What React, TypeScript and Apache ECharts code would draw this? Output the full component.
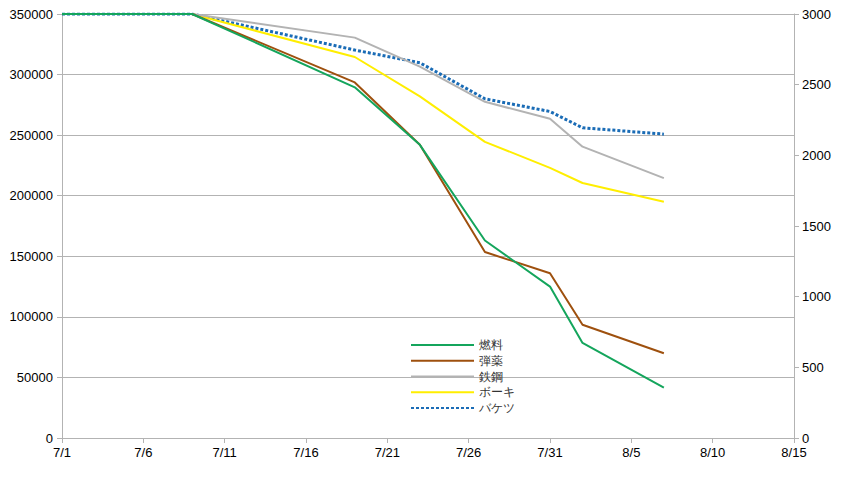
import React, { useEffect, useRef } from "react";
import * as echarts from "echarts";

const dates = ["7/1", "7/9", "7/19", "7/23", "7/27", "7/31", "8/2", "8/7"];
const fuel = [350000, 350000, 289500, 242000, 163000, 125000, 78500, 41500];
const ammo = [350000, 350000, 293500, 242000, 153500, 136000, 93500, 70000];
const steel = [350000, 350000, 330500, 306500, 277500, 263500, 240500, 214500];
const bauxite = [350000, 350000, 314500, 282000, 244500, 223000, 210500, 195000];
const bucket = [3000, 3000, 2745, 2655, 2400, 2310, 2195, 2150];

const seriesNames = ["燃料", "弾薬", "鉄鋼", "ボーキ", "バケツ"];
const seriesColors = ["#14a55c", "#9e500e", "#b3b3b3", "#ffee00", "#1a6cb6"];

const YEAR = 2020;
const START = Date.UTC(YEAR, 6, 1);
const DAY = 86400000;

function toDay(s: string): number {
  const [m, d] = s.split("/").map(Number);
  return (Date.UTC(YEAR, m - 1, d) - START) / DAY;
}
function dayLabel(v: number): string {
  const dt = new Date(START + v * DAY);
  return `${dt.getUTCMonth() + 1}/${dt.getUTCDate()}`;
}

const font = "'Liberation Sans', Arial, sans-serif";
const axisGray = "#b3b3b3";

export default function App() {
  const ref = useRef<HTMLDivElement>(null);
  useEffect(() => {
    if (!ref.current) return;
    const chart = echarts.init(ref.current, undefined, { renderer: "svg" });
    const xs = dates.map(toDay);
    const mk = (vals: number[]) => vals.map((v, i) => [xs[i], v]);
    const all = [fuel, ammo, steel, bauxite, bucket];
    chart.setOption({
      animation: false,
      textStyle: { fontFamily: font },
      grid: { left: 62, right: 58, top: 14, bottom: 40 },
      legend: {
        orient: "vertical",
        left: 410,
        top: 339,
        padding: 0,
        itemWidth: 63,
        itemHeight: 14,
        itemGap: 3.75,
        itemStyle: { opacity: 0 },
        textStyle: { fontSize: 12, color: "#333", fontFamily: font, padding: [0, 0, 0, 0] },
        data: seriesNames,
      },
      xAxis: {
        type: "value",
        min: 0,
        max: 45,
        interval: 5,
        axisLine: { lineStyle: { color: axisGray } },
        axisTick: { show: true, length: 5, lineStyle: { color: axisGray } },
        splitLine: { show: false },
        axisLabel: {
          formatter: (v: number) => dayLabel(v),
          fontSize: 13,
          color: "#000",
          fontFamily: font,
          margin: 8,
        },
      },
      yAxis: [
        {
          type: "value",
          min: 0,
          max: 350000,
          interval: 50000,
          axisLine: { show: true, lineStyle: { color: axisGray } },
          axisTick: { show: true, length: 5, lineStyle: { color: axisGray } },
          splitLine: { lineStyle: { color: axisGray } },
          axisLabel: { formatter: (v: number) => String(v), fontSize: 13, color: "#000", fontFamily: font, margin: 9 },
        },
        {
          type: "value",
          min: 0,
          max: 3000,
          interval: 500,
          position: "right",
          axisLine: { show: true, lineStyle: { color: axisGray } },
          axisTick: { show: true, length: 5, lineStyle: { color: axisGray } },
          splitLine: { show: false },
          axisLabel: { formatter: (v: number) => String(v), fontSize: 13, color: "#000", fontFamily: font, margin: 8 },
        },
      ],
      series: seriesNames.map((name, i) => ({
        name,
        type: "line",
        yAxisIndex: i === 4 ? 1 : 0,
        symbol: "none",
        data: mk(all[i]),
        color: seriesColors[i],
        z: 10 - i,
        lineStyle:
          i === 4
            ? { color: seriesColors[i], width: 3, type: [3, 2] }
            : { color: seriesColors[i], width: 2 },
      })),
    });
    return () => chart.dispose();
  }, []);
  return <div ref={ref} style={{ width: 852, height: 478, position: "absolute", left: 0, top: 0 }} />;
}
